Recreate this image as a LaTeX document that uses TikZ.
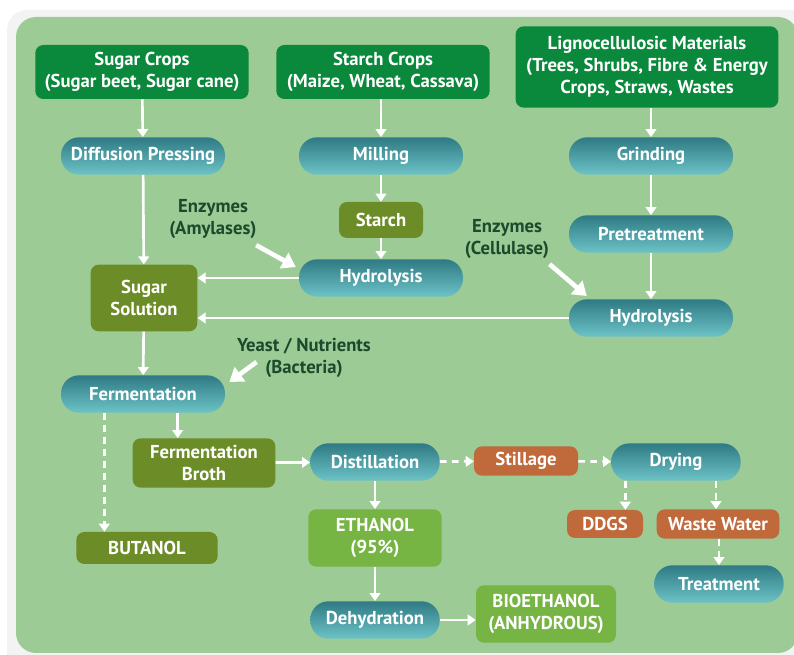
\documentclass[tikz,border=0pt]{standalone}
\usepackage{fontspec}
\setmainfont{PT Sans}
\usetikzlibrary{arrows.meta,positioning}

\definecolor{framegrey}{HTML}{F3F3F3}
\definecolor{panelgreen}{HTML}{9DCB95}
\definecolor{srcgreen}{HTML}{0A883B}
\definecolor{midolive}{HTML}{6B8C26}
\definecolor{brightgreen}{HTML}{76B443}
\definecolor{rust}{HTML}{C06A3C}
\definecolor{tealdark}{HTML}{2F7A84}
\definecolor{teallight}{HTML}{6CC3C6}
\definecolor{notegreen}{HTML}{1B4A2C}

\begin{document}
\begin{tikzpicture}[
    x=0.75pt, y=-0.75pt,
    font=\bfseries\fontsize{14}{16.5}\selectfont,
    base/.style={rectangle, align=center, inner sep=0pt, text=white},
    srcbox/.style={base, fill=srcgreen, rounded corners=6pt},
    midbox/.style={base, fill=midolive, rounded corners=6pt},
    prodbox/.style={base, fill=brightgreen, rounded corners=6pt},
    wastebox/.style={base, fill=rust, rounded corners=6pt},
    pill/.style={base, top color=tealdark, bottom color=teallight, rounded corners=13.5pt, minimum height=28pt},
    note/.style={align=center, text=notegreen, inner sep=1pt},
    arr/.style={-{Triangle[length=6pt,width=8pt]}, white, line width=2pt},
    darr/.style={arr, dash pattern=on 5pt off 4pt},
    bigarr/.style={-{Triangle[length=10pt,width=13pt]}, white, line width=3.5pt},
]
    \useasboundingbox (0,0) rectangle (794,655);
    \fill [framegrey, rounded corners=15pt] (7,10) rectangle (830,690);
    \fill [panelgreen, rounded corners=15pt] (16,17) rectangle (798,653);

    % Feedstocks
    \node [srcbox, minimum width=160pt, minimum height=40.5pt] (sugar) at (142,72) {Sugar Crops\\(Sugar beet, Sugar cane)};
    \node [srcbox, minimum width=160pt, minimum height=40.5pt] (starch) at (383,72) {Starch Crops\\(Maize, Wheat, Cassava)};
    \node [srcbox, minimum width=197pt, minimum height=61pt] (ligno) at (647,67) {Lignocellulosic Materials\\(Trees, Shrubs, Fibre \& Energy\\Crops, Straws, Wastes};

    % Pre-processing
    \node [pill, minimum width=123pt] (diffusion) at (143,156) {Diffusion Pressing};
    \node [pill, minimum width=123pt] (milling) at (381,156) {Milling};
    \node [pill, minimum width=123pt] (grinding) at (651,156) {Grinding};
    \node [midbox, minimum width=63pt, minimum height=27pt] (starchbox) at (381,220) {Starch};
    \node [pill, minimum width=123pt] (hydroS) at (381,278) {Hydrolysis};
    \node [pill, minimum width=123pt] (pretreat) at (651,234) {Pretreatment};
    \node [pill, minimum width=123pt] (hydroL) at (651,318) {Hydrolysis};
    \node [midbox, minimum width=80pt, minimum height=50pt] (solution) at (144,298) {Sugar\\Solution};

    % Fermentation and products
    \node [pill, minimum width=123pt] (ferment) at (143,394) {Fermentation};
    \node [midbox, minimum width=107pt, minimum height=37pt] (broth) at (204,463) {Fermentation\\Broth};
    \node [pill, minimum width=97pt] (distil) at (375,462) {Distillation};
    \node [wastebox, minimum width=78pt, minimum height=22pt] (stillage) at (526,461) {Stillage};
    \node [pill, minimum width=97pt] (drying) at (676,462) {Drying};
    \node [wastebox, minimum width=57pt, minimum height=21pt] (ddgs) at (605,524) {DDGS};
    \node [wastebox, minimum width=92pt, minimum height=22pt] (waste) at (718,524) {Waste Water};
    \node [pill, minimum width=97pt] (treat) at (719,584) {Treatment};
    \node [midbox, minimum width=106pt, minimum height=24pt] (butanol) at (147,548) {BUTANOL};
    \node [prodbox, minimum width=100pt, minimum height=43pt] (ethanol) at (375,538) {ETHANOL\\(95\%)};
    \node [pill, minimum width=97pt] (dehydr) at (375,620) {Dehydration};
    \node [prodbox, minimum width=105pt, minimum height=43pt] (bioeth) at (546,614) {BIOETHANOL\\(ANHYDROUS)};

    % Inputs
    \node [note] (amylase) at (213,219) {Enzymes\\(Amylases)};
    \node [note] (cellulase) at (507,239) {Enzymes\\(Cellulase)};
    \node [note] (yeast) at (304,358) {Yeast / Nutrients\\(Bacteria)};

    % Sugar route
    \draw [arr] (sugar) -- (diffusion);
    \draw [arr] (diffusion) -- (solution);
    \draw [arr] (solution) -- (ferment);

    % Starch route
    \draw [arr] (starch.south -| milling) -- (milling);
    \draw [arr] (milling) -- (starchbox);
    \draw [arr] (starchbox) -- (hydroS);
    \draw [arr] (hydroS.west) -- (hydroS.west -| solution.east);

    % Lignocellulosic route
    \draw [arr] (ligno.south -| grinding) -- (grinding);
    \draw [arr] (grinding) -- (pretreat);
    \draw [arr] (pretreat) -- (hydroL);
    \draw [arr] (hydroL.west) -- (hydroL.west -| solution.east);

    % Enzymes and yeast
    \draw [bigarr] ([shift={(-2,5)}]amylase.south east) -- ([shift={(-3,-11)}]hydroS.west);
    \draw [bigarr] ([shift={(-1,4)}]cellulase.south east) -- ([shift={(18,-22)}]hydroL.west);
    \draw [bigarr] ([shift={(21,4)}]yeast.west) -- ([shift={(4,-12)}]ferment.east);

    % Downstream
    \draw [darr] ([xshift=-29pt]ferment.south) -- ([xshift=-29pt]ferment.south |- butanol.north);
    \draw [arr] ([xshift=26pt]ferment.south) -- ([xshift=26pt]ferment.south |- broth.north);
    \draw [arr] (broth) -- (distil);
    \draw [darr] (distil) -- (stillage);
    \draw [darr] (stillage) -- (drying);
    \draw [darr] ([xshift=-38pt]drying.south) -- ([xshift=-38pt]drying.south |- ddgs.north);
    \draw [darr] ([xshift=30pt]drying.south) -- ([xshift=30pt]drying.south |- waste.north);
    \draw [darr] (waste.south -| treat) -- (treat);
    \draw [arr] (distil) -- (ethanol);
    \draw [arr] (ethanol) -- (dehydr);
    \draw [arr] (dehydr) -- (bioeth.west |- dehydr);
\end{tikzpicture}
\end{document}
